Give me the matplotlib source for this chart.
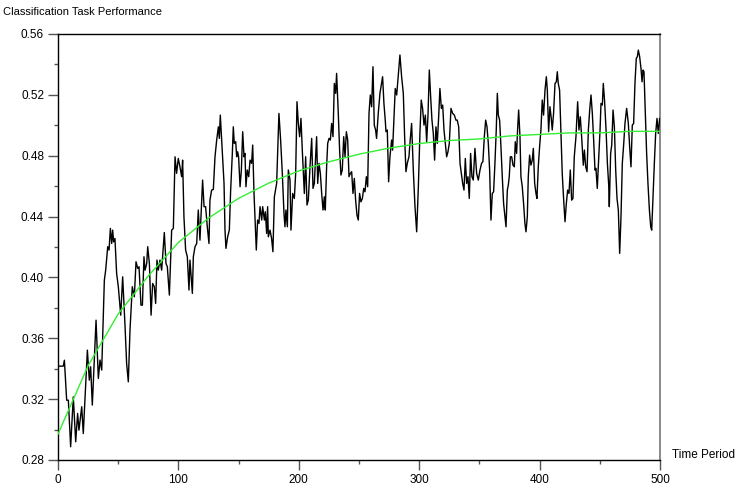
import matplotlib
matplotlib.use("Agg")
import matplotlib.pyplot as plt
from matplotlib.ticker import MultipleLocator

plt.rcParams['font.family'] = ['Liberation Sans', 'DejaVu Sans']

title = "Classification Task Performance"
x_label = "Time Period"

perf_t = [0.3, 4.4, 5.3, 7.2, 8.6, 10.5, 12.7, 14.7, 16.3, 17.4, 19.7, 21.0, 24.4, 26.0, 27.1, 28.5,
          31.6, 33.5, 34.9, 36.3, 38.5, 39.6, 41.3, 42.4, 43.5, 44.6, 45.4, 46.2, 47.3, 48.7, 50.1,
          52.1, 53.7, 55.7, 57.0, 58.4, 59.8, 61.7, 63.4, 64.8, 66.2, 67.3, 68.9, 70.1, 71.4, 72.3,
          73.7, 74.5, 75.9, 77.3, 78.6, 80.0, 81.1, 82.2, 83.3, 84.7, 86.1, 88.3,
          89.7, 90.8, 92.5, 94.4, 95.8, 97.2, 98.5, 99.9, 101.3, 102.7, 103.5, 104.6, 106.0, 107.4,
          108.8, 109.6, 111.6, 112.4, 113.8, 115.2, 116.5, 117.9, 120.1, 121.3, 122.6, 124.0, 125.4,
          126.2, 127.6, 129.0, 130.4, 131.8, 133.2, 134.0, 134.8, 135.9, 136.8, 137.9, 138.7, 139.5,
          140.9, 142.3, 143.4, 144.8, 145.6, 146.4, 147.6, 148.4, 149.2, 150.0, 151.2, 152.3, 153.4,
          154.5, 155.3, 156.1, 157.2, 158.4, 159.5, 160.8, 161.7, 162.8, 163.6, 164.7, 165.8, 166.9,
          167.8, 169.2, 170.0, 171.4, 172.2, 173.3, 174.1, 174.7, 176.1, 177.4, 178.5, 179.7, 181.6,
          183.5, 184.9, 186.3, 187.7, 188.5, 189.3, 190.5, 191.3, 192.7, 193.5, 194.9, 196.3, 197.4,
          198.5, 199.6, 200.7, 201.8, 202.9, 204.6, 205.7, 206.8, 207.9, 209.3, 210.7, 211.8, 212.9,
          214.0, 214.8, 215.7, 216.8, 217.9, 219.0, 220.1, 221.2, 222.0, 223.1, 224.0, 225.1, 226.2,
          227.3, 228.4, 229.5, 230.6, 231.4, 232.8, 233.9, 235.0, 236.1, 237.3, 238.4, 239.5, 240.6,
          241.7, 242.8, 243.9, 245.0, 246.1, 247.2, 248.3, 249.4, 250.5, 251.6, 252.8, 253.9, 255.0,
          256.1, 257.2, 258.3, 259.4, 260.5, 261.6, 262.7, 263.8, 264.6, 266.0, 267.4, 269.6, 270.7,
          271.8, 272.4, 273.5, 274.6, 275.7, 277.1, 277.9, 279.0, 280.1, 281.3, 282.6, 284.0, 285.4,
          286.8, 287.9, 289.0, 290.1, 291.5, 292.3, 293.7, 295.1, 296.5, 297.9, 299.3, 300.6, 301.7,
          302.8, 304.0, 305.1, 306.2, 307.3, 308.4, 309.5, 310.6, 311.7, 312.8, 313.9, 315.0, 316.1,
          317.2, 318.4, 319.5, 320.6, 321.7, 322.8, 323.9, 325.0, 326.4, 327.8, 329.2, 330.5, 331.6,
          332.8, 333.9, 335.0, 336.1, 337.2, 338.3, 339.4, 340.5, 341.6, 342.7, 343.8, 344.9, 346.3,
          347.7, 349.1, 350.5, 351.8, 352.9, 354.1, 355.2, 356.3, 357.4, 358.5, 359.6, 360.7, 361.8,
          362.9, 364.0, 364.9, 365.7, 366.8, 367.9, 369.0, 370.1, 371.2, 372.1, 373.2, 374.0, 374.8,
          375.7, 376.8, 377.9, 379.0, 379.8, 380.9, 381.7, 382.6, 383.7, 384.5, 385.6, 386.7, 387.8,
          388.7, 389.8, 390.6, 391.7, 392.8, 393.9, 394.8, 395.9, 397.0, 397.8, 398.9, 400.0, 401.1,
          402.2, 403.3, 404.5, 405.6, 406.4, 407.5, 408.6, 409.7, 410.5, 411.6, 412.8, 413.9, 414.7,
          415.5, 416.6, 417.7, 418.8, 420.0, 421.1, 422.2, 423.3, 424.4, 425.5, 426.6, 427.7, 428.8,
          430.2, 431.6, 432.7, 433.8, 434.9, 436.3, 437.2, 438.3, 439.4, 440.5, 441.6, 442.7, 443.8,
          444.9, 446.0, 446.8, 447.9, 449.1, 450.2, 451.0, 452.1, 452.9, 454.0, 455.2, 456.3, 457.4,
          457.9, 459.0, 459.9, 461.0, 462.1, 463.2, 464.3, 465.4, 466.5, 467.6, 468.7, 469.8, 470.9,
          472.3, 473.7, 474.8, 475.9, 477.0, 478.1, 479.2, 480.3, 481.2, 482.0, 483.1, 484.2, 485.1,
          485.9, 486.7, 487.8, 488.9, 490.0, 491.2, 492.3, 493.1, 494.2, 495.3, 496.4, 497.5, 498.6,
          499.7]

perf_v = [0.3417, 0.3417, 0.3456, 0.3193, 0.3193, 0.2887, 0.3215, 0.2920, 0.3106, 0.2996, 0.3150,
          0.2974, 0.3522, 0.3325, 0.3413, 0.3161, 0.3719, 0.3336, 0.3457, 0.3391, 0.3982, 0.4048,
          0.4202, 0.4180, 0.4322, 0.4223, 0.4311, 0.4234, 0.4256, 0.4026, 0.3939, 0.3752, 0.4004,
          0.3676, 0.3435, 0.3314, 0.3654, 0.3939, 0.3873, 0.4103, 0.4059, 0.4070, 0.3818, 0.3818,
          0.4136, 0.4048, 0.4092, 0.4202, 0.4092, 0.3752, 0.3960, 0.3939, 0.3829, 0.4114, 0.4048,
          0.4114, 0.4048, 0.4295,
          0.4092, 0.4070, 0.3884, 0.4311, 0.4322, 0.4793, 0.4684, 0.4782, 0.4727, 0.4662, 0.4771,
          0.4399, 0.4180, 0.4136, 0.3917, 0.4114, 0.3895, 0.4136, 0.4202, 0.4223, 0.4443, 0.4245,
          0.4640, 0.4465, 0.4465, 0.4333, 0.4223, 0.4508, 0.4574, 0.4578, 0.4793, 0.4903, 0.4990,
          0.4914, 0.5067, 0.4903, 0.4771, 0.4618, 0.4311, 0.4191, 0.4267, 0.4311, 0.4574, 0.4815,
          0.4990, 0.4881, 0.4892, 0.4793, 0.4826, 0.4793, 0.4596, 0.4706, 0.4958, 0.4793, 0.4815,
          0.4596, 0.4706, 0.4662, 0.4771, 0.4750, 0.4870, 0.4552, 0.4399, 0.4180, 0.4377, 0.4355,
          0.4465, 0.4377, 0.4465, 0.4377, 0.4432, 0.4289, 0.4465, 0.4267, 0.4311, 0.4256, 0.4169,
          0.4530, 0.4618, 0.5078, 0.4903, 0.4684, 0.4421, 0.4333, 0.4443, 0.4333, 0.4706, 0.4640,
          0.4311, 0.4552, 0.4519, 0.4684, 0.5155, 0.5012, 0.4925, 0.5045, 0.4837, 0.4552, 0.4793,
          0.4476, 0.4508, 0.4727, 0.4914, 0.4585, 0.4618, 0.4793, 0.4925, 0.4618, 0.4750, 0.4684,
          0.4552, 0.4443, 0.4530, 0.4443, 0.4727, 0.4881, 0.4914, 0.4903, 0.5012, 0.4925, 0.5275,
          0.5210, 0.5341, 0.5078, 0.4837, 0.4673, 0.4706, 0.4925, 0.4793, 0.4958, 0.4903, 0.4662,
          0.4684, 0.4695, 0.4552, 0.4651, 0.4508, 0.4410, 0.4377, 0.4552, 0.4497, 0.4519, 0.4585,
          0.4563, 0.4662, 0.4596, 0.5078, 0.5199, 0.5122, 0.5385, 0.5000, 0.4969, 0.4914, 0.5078,
          0.5210, 0.5319, 0.5144, 0.5034, 0.4958, 0.4969, 0.4629, 0.4793, 0.4903, 0.4837, 0.5034,
          0.5242, 0.5199, 0.5330, 0.5462, 0.5319, 0.5210, 0.4925, 0.4695, 0.4750, 0.4793, 0.4881,
          0.5012, 0.4706, 0.4465, 0.4300, 0.4596, 0.4947, 0.5166, 0.5111, 0.5001, 0.5067, 0.4892,
          0.5067, 0.5363, 0.5188, 0.5034, 0.4947, 0.4771, 0.4990, 0.4881, 0.5045, 0.5242, 0.5111,
          0.5133, 0.4969, 0.4881, 0.4793, 0.4826, 0.4881, 0.5111, 0.5078, 0.5067, 0.5034, 0.5034,
          0.4990, 0.4750, 0.4684, 0.4618, 0.4574, 0.4782, 0.4618, 0.4662, 0.4519, 0.4815, 0.4662,
          0.4640, 0.4848, 0.4684, 0.4640, 0.4706, 0.4750, 0.4761, 0.4925, 0.5034, 0.4990, 0.4881,
          0.4706, 0.4377, 0.4552, 0.4563, 0.4750, 0.4969, 0.5210, 0.5067, 0.5034, 0.4859, 0.4662,
          0.4486, 0.4399, 0.4333, 0.4574, 0.4607, 0.4662, 0.4793, 0.4793, 0.4738, 0.4727, 0.4892,
          0.4815, 0.4969, 0.5100, 0.4925, 0.4662, 0.4596, 0.4486, 0.4355, 0.4300, 0.4399, 0.4662,
          0.4804, 0.4738, 0.4771, 0.4848, 0.4618, 0.4552, 0.4519, 0.4727, 0.4859, 0.4969, 0.5166,
          0.5067, 0.5232, 0.5319, 0.5232, 0.4958, 0.5122, 0.5045, 0.4969, 0.5078, 0.5275, 0.5286,
          0.5352, 0.5275, 0.5232, 0.4969, 0.4684, 0.4508, 0.4366, 0.4486, 0.4574, 0.4552, 0.4706,
          0.4508, 0.4519, 0.4793, 0.4925, 0.5155, 0.4969, 0.5056, 0.4925, 0.4738, 0.4837, 0.4727,
          0.4695, 0.4969, 0.5100, 0.5199, 0.5078, 0.4903, 0.4706, 0.4717, 0.4585, 0.4793, 0.4969,
          0.5144, 0.5133, 0.5275, 0.5155, 0.4969, 0.4750, 0.4607, 0.4465, 0.4815, 0.4870, 0.5100,
          0.4990, 0.4706, 0.4519, 0.4443, 0.4158, 0.4399, 0.4750, 0.4870, 0.5012, 0.5111, 0.5012,
          0.4859, 0.4727, 0.5001, 0.5012, 0.5275, 0.5440, 0.5451, 0.5494, 0.5451, 0.5374, 0.5286,
          0.5363, 0.5352, 0.5078, 0.4815, 0.4618, 0.4443, 0.4333, 0.4311, 0.4530, 0.4750, 0.4947,
          0.5045, 0.4947, 0.5045]

trend_t = [0, 25, 50, 75, 100, 125, 150, 175, 200, 225, 250, 275, 300, 325, 350, 375, 400, 425,
           450, 475, 500]
trend_v = [0.297, 0.342, 0.376, 0.401, 0.423, 0.439, 0.452, 0.462, 0.470, 0.476, 0.481, 0.485,
           0.488, 0.490, 0.491, 0.493, 0.494, 0.495, 0.495, 0.496, 0.496]

x_ticks = [0, 100, 200, 300, 400, 500]
y_ticks = [0.28, 0.32, 0.36, 0.40, 0.44, 0.48, 0.52, 0.56]
y_tick_labels = ["0.28", "0.32", "0.36", "0.40", "0.44", "0.48", "0.52", "0.56"]

fig = plt.figure(figsize=(7.44, 4.87), dpi=100)
ax = fig.add_axes([58 / 744, 1 - 460 / 487, (660 - 58) / 744, (460 - 34) / 487])

ax.plot(perf_t, perf_v, color="black", lw=1.0, zorder=3)
ax.plot(trend_t, trend_v, color="#33ee33", lw=1.0, zorder=4)

ax.set_xlim(0, 500)
ax.set_ylim(0.28, 0.56)
ax.set_xticks(x_ticks)
ax.set_yticks(y_ticks)
ax.set_yticklabels(y_tick_labels)
ax.xaxis.set_minor_locator(MultipleLocator(50))
ax.yaxis.set_minor_locator(MultipleLocator(0.02))
ax.tick_params(axis="both", which="major", labelsize=8.5, length=7, width=1, color="#555555", pad=3)
ax.tick_params(axis="both", which="minor", length=3, width=1, color="#555555")
for s in ["left", "bottom", "top"]:
    ax.spines[s].set_color("black")
    ax.spines[s].set_linewidth(1.0)
ax.spines["right"].set_color("#777777")
ax.spines["right"].set_linewidth(1.2)

fig.text(3 / 744, 1 - 12 / 487, title, fontsize=8, ha="left", va="center")
fig.text(672 / 744, 1 - 455 / 487, x_label, fontsize=8.5, ha="left", va="center")

fig.savefig("out.png", dpi=100)
